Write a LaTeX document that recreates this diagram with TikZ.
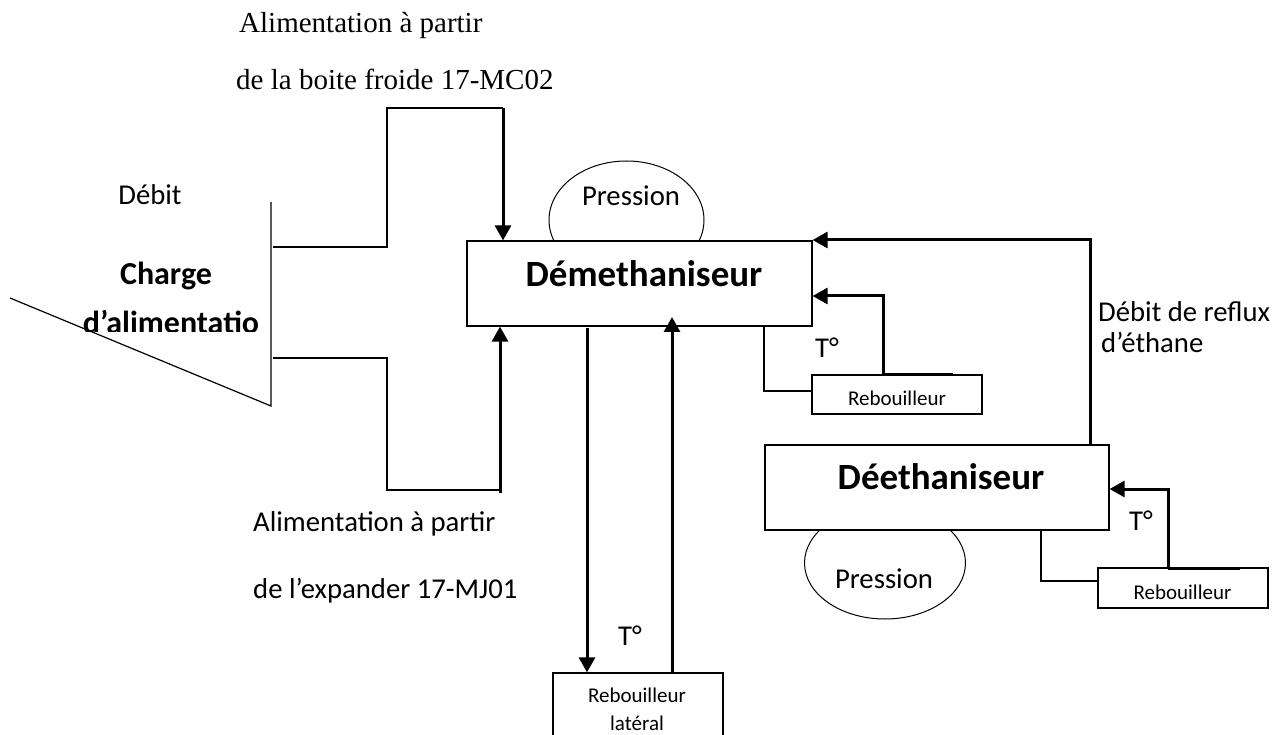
\documentclass[tikz,border=0pt]{standalone}
\usepackage{fontspec}
\setmainfont{Carlito}
\newfontfamily\tnrfont{Liberation Serif}
\usetikzlibrary{arrows.meta,shapes.geometric}
\tikzset{
  thin line/.style={line width=1.2pt},
  thick flow/.style={line width=3pt},
  flow/.style={line width=3pt,-{Triangle[length=15pt,width=16pt]}},
  box/.style={draw,line width=1.2pt,fill=white,inner sep=0pt},
  txt/.style={inner sep=0pt,anchor=base,font=\fontsize{28.7}{34}\selectfont},
  txtw/.style={inner sep=0pt,anchor=base west,font=\fontsize{28.7}{34}\selectfont},
  smalltxt/.style={inner sep=0pt,anchor=base,font=\fontsize{21}{25}\selectfont},
  bigtxt/.style={inner sep=0pt,anchor=base,font=\fontsize{37}{44}\selectfont\bfseries},
  chtxt/.style={inner sep=0pt,anchor=base,font=\fontsize{32}{38}\selectfont\bfseries},
  serif/.style={inner sep=0pt,anchor=base west,font=\fontsize{29}{34}\selectfont\tnrfont},
  press/.style={draw,line width=1pt,ellipse}
}
\begin{document}
\begin{tikzpicture}[x=1pt,y=-1pt]
\clip (0,0) rectangle (1278,735);
\fill[white] (0,0) rectangle (1278,735);

% pressure ellipses (behind boxes)
\node[press,minimum width=155pt,minimum height=118pt,inner sep=0pt] (p1) at (626.5,220) {};
\node[press,minimum width=161pt,minimum height=112pt,inner sep=0pt] (p2) at (885,563) {};

% main boxes
\node[box,minimum width=345pt,minimum height=85pt] (demeth) at (639.5,283.5) {};
\node[box,minimum width=344pt,minimum height=85pt] (deeth) at (937,487.5) {};
\node[box,minimum width=170pt,minimum height=39pt] (reb1) at (897,394.5) {};
\node[box,minimum width=170pt,minimum height=40pt] (reb2) at (1183,588) {};
\node[box,minimum width=170pt,minimum height=120pt] (reblat) at (638,733) {};

% texts
\node[txt] (tp1) at (631,206) {Pression};
\node[txt] (tp2) at (884,588) {Pression};
\node[bigtxt] (tdm) at (644,287) {Démethaniseur};
\node[bigtxt] (tde) at (941,489) {Déethaniseur};
\node[smalltxt] (tr1) at (897,405.5) {Rebouilleur};
\node[smalltxt] (tr2) at (1182.5,599) {Rebouilleur};
\node[smalltxt] (tr3) at (637,702) {Rebouilleur};
\node[smalltxt] (tr4) at (637,730) {latéral};
\node[txt] (t1) at (827,358) {T°};
\node[txt] (t2) at (1141,530) {T°};
\node[txt] (t3) at (630,645) {T°};
\node[txtw] (reflux1) at (1098,322) {Débit de reflux};
\node[txtw] (reflux2) at (1101,353) {d’éthane};
\node[txt] (debit) at (150,205) {Débit};
\node[chtxt] (charge) at (166,285) {Charge};
\begin{scope}
\clip (40,290) rectangle (300,332);
\node[chtxt] (charge2) at (171,333.5) {d’alimentatio};
\end{scope}
\node[serif] (top1) at (239,33) {Alimentation à partir};
\node[serif] (top2) at (236,90) {de la boite froide 17-MC02};
\node[txtw] (bot1) at (253,531) {Alimentation à partir};
\node[txtw] (bot2) at (253,598) {de l’expander 17-MJ01};

% charge funnel
\coordinate (fa) at (271,202);
\coordinate (fb) at (271,406);
\coordinate (fc) at (10,298);
\draw[thin line] (fa) -- (fb) -- (fc);

% upper feed
\coordinate (u0) at (273,247);
\coordinate (u1) at (387,247);
\coordinate (u2) at (387,108);
\coordinate (u3) at (503,108);
\draw[thin line] (u0) -- (u1) -- (u2) -- (u3);
\draw[flow] (u3) -- (u3 |- demeth.north);

% lower feed
\coordinate (l0) at (273,358);
\coordinate (l1) at (387,358);
\coordinate (l2) at (387,490);
\coordinate (l3) at (500,490);
\coordinate (l4) at (500,493);
\draw[thin line] (l0) -- (l1) -- (l2) -- (l3);
\draw[flow] (l4) -- (l4 |- demeth.south);

% side reboiler
\coordinate (m1) at (587,328);
\coordinate (m2) at (672,317);
\draw[flow] (m1) -- (m1 |- reblat.north);
\draw[flow] (m2 |- reblat.north) -- (m2);

% reboiler 1
\coordinate (r1a) at (764,326);
\coordinate (r1b) at (764,391);
\draw[thin line] (r1a) -- (r1b) -- (r1b -| reb1.west);
\coordinate (r1c) at (883,375);
\coordinate (r1d) at (953,375);
\coordinate (r1e) at (883,296);
\draw[thick flow] (r1c) -- (r1d);
\draw[flow] (r1c) -- (r1e) -- (r1e -| demeth.east);

% reflux
\coordinate (rf1) at (1090,240);
\draw[flow] (rf1 |- deeth.north) -- (rf1) -- (rf1 -| demeth.east);

% reboiler 2
\coordinate (r2a) at (1041,530);
\coordinate (r2b) at (1041,581);
\draw[thin line] (r2a) -- (r2b) -- (r2b -| reb2.west);
\coordinate (r2c) at (1168,568);
\coordinate (r2d) at (1240,568);
\coordinate (r2e) at (1168,489);
\draw[thick flow] (r2c) -- (r2d);
\draw[flow] (r2c) -- (r2e) -- (r2e -| deeth.east);
\end{tikzpicture}
\end{document}
